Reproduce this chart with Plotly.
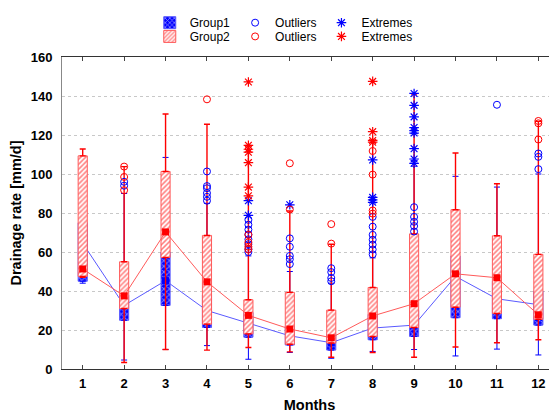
import plotly.graph_objects as go

# ---------------- data ----------------
months = list(range(1, 13))
month_labels = [str(m) for m in months]

# Group1 (blue)
g1_q1 = [45.0, 25.0, 32.6, 21.3, 16.3, 12.3, 9.7, 15.0, 16.7, 26.3, 25.8, 22.5]
g1_median = [64.5, 32.6, 45.3, 30.0, 23.5, 17.0, 13.5, 21.0, 22.5, 47.5, 36.0, 33.0]
g1_q3 = [75.0, 38.0, 60.0, 38.0, 29.0, 22.0, 18.0, 28.0, 30.0, 58.0, 45.0, 40.0]
g1_low = [44.0, 4.6, 10.0, 12.0, 5.0, 8.5, 5.5, 9.0, 10.0, 6.7, 10.2, 7.2]
g1_high = [95.0, 90.0, 108.5, 85.0, 58.0, 50.0, 44.0, 57.0, 104.0, 98.8, 93.3, 100.0]
g1_outliers = [
    [], [96.0, 94.0], [], [101.3, 93.8, 92.7, 90.2, 88.3, 86.3],
    [76.5, 74.0, 71.5, 69.0, 66.5, 64.0, 61.5, 60.0], [67.0, 62.7, 58.0, 56.3, 53.8],
    [51.7, 49.7, 46.7, 45.0], [78.0, 73.0, 68.8, 66.3, 63.8, 61.3, 58.8],
    [83.0, 78.0, 75.5, 73.3, 70.5], [], [135.5], [110.5, 108.8, 102.5],
]
g1_extremes = [
    [], [], [], [], [86.3, 78.8], [84.2], [], [107.2, 88.0, 86.7, 85.5],
    [141.3, 135.2, 129.3, 123.8, 122.2, 121.0, 113.0, 107.7, 105.5], [], [], [],
]

# Group2 (red)
g2_q1 = [47.5, 31.0, 57.2, 23.0, 18.0, 12.7, 13.3, 16.7, 21.3, 31.7, 28.5, 25.5]
g2_median = [51.3, 37.5, 70.3, 44.7, 27.5, 20.5, 16.0, 27.2, 33.5, 48.8, 46.8, 27.8]
g2_q3 = [109.3, 55.0, 101.3, 68.5, 35.5, 39.3, 30.2, 41.8, 69.3, 81.7, 68.3, 58.8]
g2_low = [47.0, 3.3, 10.0, 9.7, 11.0, 8.8, 6.0, 8.5, 6.0, 11.3, 13.5, 15.0]
g2_high = [112.8, 103.8, 130.8, 125.5, 114.6, 81.0, 64.0, 116.3, 141.0, 110.8, 95.0, 127.0]
g2_outliers = [
    [], [103.8, 98.5, 91.7], [], [138.3], [68.8, 65.0, 62.7, 61.3], [105.5, 81.8],
    [74.3, 64.3], [111.8, 99.7, 81.3, 79.7], [], [], [], [127.2, 126.0, 117.7],
]
g2_extremes = [
    [], [], [], [], [147.2, 114.7, 112.7, 111.2, 105.8, 93.3, 88.8], [], [],
    [147.5, 121.7, 117.2, 116.3], [], [], [], [],
]

# ---------------- helpers ----------------
BLUE = "#0000ff"
BLUE_LINE = "#5a5aff"
RED = "#ff0000"
RED_LINE = "#ff5a5a"
BOX_W = 0.22


def flatten(groups):
    xs, ys = [], []
    for m, vals in zip(months, groups):
        for v in vals:
            xs.append(m)
            ys.append(v)
    return xs, ys


def box_traces(q1, med, q3, lo, hi, color, line_color, name, legend, xa, ya, pattern, wthick):
    traces = []
    # whiskers (upper from q3, lower from q1)
    traces.append(go.Scatter(
        x=months, y=q3, mode="markers", xaxis=xa, yaxis=ya,
        marker=dict(size=1, color="rgba(0,0,0,0)"), showlegend=False, hoverinfo="skip",
        error_y=dict(type="data", symmetric=False,
                     array=[h - t for h, t in zip(hi, q3)], arrayminus=[0] * len(months),
                     color=color, thickness=wthick, width=3)))
    traces.append(go.Scatter(
        x=months, y=q1, mode="markers", xaxis=xa, yaxis=ya,
        marker=dict(size=1, color="rgba(0,0,0,0)"), showlegend=False, hoverinfo="skip",
        error_y=dict(type="data", symmetric=False,
                     array=[0] * len(months), arrayminus=[b - l for b, l in zip(q1, lo)],
                     color=color, thickness=wthick, width=3)))
    # boxes
    traces.append(go.Bar(
        x=months, y=[t - b for t, b in zip(q3, q1)], base=q1, width=BOX_W,
        xaxis=xa, yaxis=ya, name=name, legend=legend,
        marker=dict(color=color, pattern=pattern, line=dict(color=line_color, width=1))))
    # medians + connecting line
    traces.append(go.Scatter(
        x=months, y=med, mode="lines+markers", xaxis=xa, yaxis=ya, showlegend=False,
        line=dict(color=line_color, width=1),
        marker=dict(symbol="square", size=7, color=color)))
    return traces


fig = go.Figure()

# Group1 on the base subplot (drawn underneath)
for t in box_traces(g1_q1, g1_median, g1_q3, g1_low, g1_high, BLUE, BLUE_LINE,
                    "Group1", "legend", "x", "y",
                    dict(shape="x", fgcolor="white", bgcolor=BLUE, size=4, solidity=0.45), 1):
    fig.add_trace(t)

# Group2 on an overlaying subplot (drawn on top)
for t in box_traces(g2_q1, g2_median, g2_q3, g2_low, g2_high, RED, RED_LINE,
                    "Group2", "legend2", "x2", "y2",
                    dict(shape="/", fgcolor=RED, bgcolor="white", size=3.5, solidity=0.45), 1.4):
    fig.add_trace(t)

# outliers / extremes on top
bx, by = flatten(g1_outliers)
fig.add_trace(go.Scatter(x=bx, y=by, mode="markers", name="Outliers", legend="legend",
                         xaxis="x2", yaxis="y2",
                         marker=dict(symbol="circle-open", size=7, color=BLUE, line=dict(width=1, color=BLUE))))
bx, by = flatten(g1_extremes)
fig.add_trace(go.Scatter(x=bx, y=by, mode="markers", name="Extremes", legend="legend",
                         xaxis="x2", yaxis="y2",
                         marker=dict(symbol="asterisk-open", size=8, color=BLUE, line=dict(width=1.2, color=BLUE))))
rx, ry = flatten(g2_outliers)
fig.add_trace(go.Scatter(x=rx, y=ry, mode="markers", name="Outliers", legend="legend2",
                         xaxis="x2", yaxis="y2",
                         marker=dict(symbol="circle-open", size=7, color=RED, line=dict(width=1, color=RED))))
rx, ry = flatten(g2_extremes)
fig.add_trace(go.Scatter(x=rx, y=ry, mode="markers", name="Extremes", legend="legend2",
                         xaxis="x2", yaxis="y2",
                         marker=dict(symbol="asterisk-open", size=8, color=RED, line=dict(width=1.2, color=RED))))

FONT = "Arial, 'Liberation Sans', sans-serif"
XR = [0.5, 12.45]
YR = [0, 160]

# The page adds an 8px body margin, so the figure is 8px smaller and margins shifted.
fig.update_layout(
    width=549, height=405,
    margin=dict(l=54, r=0, t=41, b=44),
    paper_bgcolor="white", plot_bgcolor="white",
    font=dict(family=FONT, size=12, color="black"),
    barmode="overlay",
    xaxis=dict(range=XR, tickvals=months, ticktext=month_labels,
               ticks="inside", ticklen=4, tickcolor="#444",
               showline=True, linecolor="#333", linewidth=1, mirror="ticks",
               showgrid=False, zeroline=False,
               tickfont=dict(family=FONT, size=13, weight="bold", color="black"),
               ticklabelstandoff=2,
               title=dict(text="Months", font=dict(family=FONT, size=14.5, weight="bold"), standoff=10)),
    yaxis=dict(range=YR, dtick=20, ticks="", showline=True, linecolor="#888", linewidth=1,
               showgrid=True, gridcolor="#c8c8c8", griddash="dot", gridwidth=1, zeroline=False,
               tickfont=dict(family=FONT, size=13, weight="bold", color="black"),
               ticklabelstandoff=6,
               title=dict(text="Drainage rate [mm/d]", font=dict(family=FONT, size=14.5, weight="bold"),
                          standoff=6)),
    xaxis2=dict(range=XR, overlaying="x", visible=False),
    yaxis2=dict(range=YR, overlaying="y", visible=False),
    legend=dict(orientation="h", x=0.448, xanchor="center", y=1.11, yanchor="middle",
                font=dict(family=FONT, size=12), bgcolor="rgba(0,0,0,0)", itemwidth=30,
                traceorder="normal"),
    legend2=dict(orientation="h", x=0.448, xanchor="center", y=1.066, yanchor="middle",
                 font=dict(family=FONT, size=12), bgcolor="rgba(0,0,0,0)", itemwidth=30,
                 traceorder="normal"),
)

fig.write_html("out.html")
